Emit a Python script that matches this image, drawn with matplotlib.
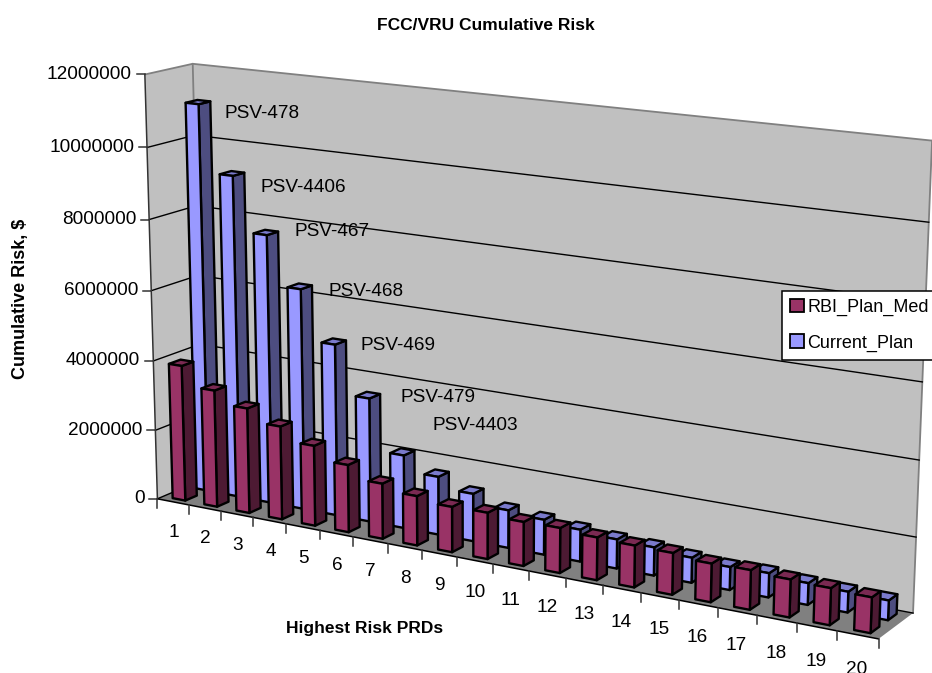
import numpy as np
import matplotlib
matplotlib.use("Agg")
import matplotlib.pyplot as plt
from matplotlib.patches import Patch, Polygon

plt.rcParams['font.family'] = ['Liberation Sans', 'DejaVu Sans']

categories = list(range(1, 21))
rbi_plan_med = [3900000, 3350000, 3000000, 2650000, 2270000, 1900000, 1550000, 1380000, 1260000, 1280000,
                1210000, 1230000, 1160000, 1130000, 1120000, 1030000, 1050000, 1000000, 970000, 930000]
current_plan = [11060000, 9180000, 7650000, 6270000, 4860000, 3500000, 2060000, 1630000, 1330000, 1050000,
                970000, 880000, 800000, 770000, 680000, 620000, 650000, 580000, 550000, 520000]
value_ticks = [0, 2000000, 4000000, 6000000, 8000000, 10000000, 12000000]
annotations = ["PSV-478", "PSV-4406", "PSV-467", "PSV-468", "PSV-469", "PSV-479", "PSV-4403"]
annotation_pos = [(224, 113), (261, 188), (295, 232), (328, 291), (361, 345), (401, 397), (433, 425)]
VMAX = 12000000

# Perspective camera of the chart box, solved from where its corners sit in the picture
box = np.array([(0, 0, 0), (0, 1, 0), (0, 0, 1), (0, 1, 1), (1, 0, 0), (1, 0, 1), (1, 1, 1),
                (.5, 0, 0), (0, .5, 0), (1, .5, 1), (0, .5, 1)], float)
img = np.array([(158, 498), (144, 75), (203, 481), (193, 64), (879, 639), (913, 612), (932.5, 141),
                (492, 565), (152, 290), (922, 382), (198, 274)], float) / 1000
rows = []
for (a, b, c), (u, v) in zip(box, img):
    rows.append([a, b, c, 1, 0, 0, 0, 0, -u*a, -u*b, -u*c, -u])
    rows.append([0, 0, 0, 0, a, b, c, 1, -v*a, -v*b, -v*c, -v])
P = np.linalg.svd(np.array(rows))[2][-1].reshape(3, 4)


def proj(x, v, d):
    """category position (0..20), value in $, depth (0..1) -> picture position"""
    q = P @ np.array([x / 20, v / VMAX, d, 1.0])
    return q[0] / q[2] * 1000, q[1] / q[2] * 1000


fig = plt.figure(figsize=(9.32, 6.73), dpi=100, facecolor='white')
ax = fig.add_axes([0, 0, 1, 1])
ax.set_xlim(0, 932)
ax.set_ylim(673, 0)
ax.axis('off')

WALL, FLOOR, EDGE = '#C0C0C0', '#808080', '#808080'


def poly(pts, fc, ec='black', lw=1.7, z=1):
    ax.add_patch(Polygon(pts, closed=True, facecolor=fc, edgecolor=ec, linewidth=lw, zorder=z, joinstyle='round'))


# walls and floor
poly([proj(0, 0, 0), proj(0, VMAX, 0), proj(0, VMAX, 1), proj(0, 0, 1)], WALL, 'none', 0, 1)
poly([proj(0, 0, 1), proj(0, VMAX, 1), proj(20, VMAX, 1), proj(20, 0, 1)], WALL, 'none', 0, 1)
poly([proj(0, 0, 0), proj(20, 0, 0), proj(20, 0, 1), proj(0, 0, 1)], FLOOR, 'none', 0, 1.5)

for a, b in [((0, VMAX, 0), (0, VMAX, 1)), ((0, VMAX, 1), (20, VMAX, 1)),
             ((0, VMAX, 1), (0, 0, 1)), ((20, VMAX, 1), (20, 0, 1))]:
    pa, pb = proj(*a), proj(*b)
    ax.plot([pa[0], pb[0]], [pa[1], pb[1]], color=EDGE, lw=1.3, zorder=2, solid_capstyle='round')

# gridlines
for v in value_ticks[:-1]:
    pts = [proj(0, v, 0), proj(0, v, 1), proj(20, v, 1)]
    ax.plot([p[0] for p in pts], [p[1] for p in pts], color='black', lw=1.0, zorder=2)

# axes lines, ticks and tick labels
a0, a1 = proj(0, 0, 0), proj(0, VMAX, 0)
ax.plot([a0[0], a1[0]], [a0[1], a1[1]], color='#333333', lw=1.1, zorder=3)
b0, b1 = proj(0, 0, 0), proj(20, 0, 0)
ax.plot([b0[0], b1[0]], [b0[1], b1[1]], color='black', lw=1.1, zorder=3)
for v in value_ticks:
    x, y = proj(0, v, 0)
    ax.plot([x - 8, x], [y, y], color='#333333', lw=1.1, zorder=3)
    ax.text(x - 13, y, str(v), ha='right', va='center', fontsize=13.7, color='black')
for i in range(21):
    x, y = proj(i, 0, 0)
    ax.plot([x, x], [y, y + 9], color='#333333', lw=1.1, zorder=3)
for i, c in enumerate(categories):
    x, y = proj(i + .5, -900000, 0)
    ax.text(x, y, str(c), ha='center', va='center', fontsize=13.7, color='black', clip_on=True)


# columns
def column(i, v, d0, d1, front, side, top):
    x0, x1 = i + .3, i + .7
    poly([proj(x1, 0, d0), proj(x1, 0, d1), proj(x1, v, d1), proj(x1, v, d0)], side, z=5)
    poly([proj(x0, v, d0), proj(x1, v, d0), proj(x1, v, d1), proj(x0, v, d1)], top, z=5)
    poly([proj(x0, 0, d0), proj(x1, 0, d0), proj(x1, v, d0), proj(x0, v, d0)], front, z=5)


for i, v in enumerate(current_plan):
    column(i, v, .625, .875, '#9999FF', '#4D4D80', '#7A7ACC')
for i, v in enumerate(rbi_plan_med):
    column(i, v, .125, .375, '#993366', '#4D1A33', '#7A2952')

for s, (x, y) in zip(annotations, annotation_pos):
    ax.text(x, y, s, ha='left', va='center', fontsize=13.7, color='black', zorder=6)

ax.text(486, 25, "FCC/VRU Cumulative Risk", ha='center', va='center', fontsize=12.5, fontweight='bold')
ax.text(21, 299, "Cumulative Risk, $", ha='center', va='center', rotation=90, fontsize=13, fontweight='bold')
ax.text(365, 628, "Highest Risk PRDs", ha='center', va='center', fontsize=12.5, fontweight='bold')

handles = [Patch(facecolor='#993366', edgecolor='black', lw=1.3, label='RBI_Plan_Med'),
           Patch(facecolor='#9999FF', edgecolor='black', lw=1.3, label='Current_Plan')]
leg = ax.legend(handles=handles, loc='upper left', bbox_to_anchor=(782, 291), bbox_transform=ax.transData,
                fontsize=13, frameon=True, fancybox=False, framealpha=1, edgecolor='black', facecolor='white',
                borderaxespad=0, borderpad=0.45, handlelength=0.75, handleheight=0.75, handletextpad=0.2,
                labelspacing=1.0)
leg.get_frame().set_linewidth(1.1)
leg.set_zorder(7)

fig.savefig("out.png", dpi=100)
